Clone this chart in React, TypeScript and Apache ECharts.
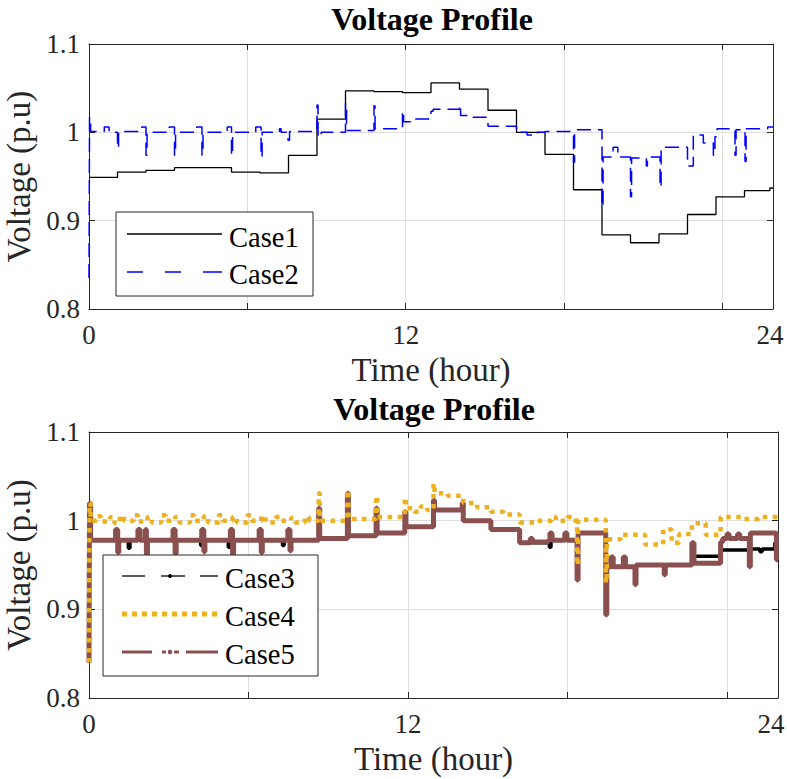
import React, { useEffect, useRef } from 'react';
import * as echarts from 'echarts';

// x axis is in sample units (54 samples per hour, 24 h = 1296)
const X_MAX = 1296;
const X_INTERVAL = 300;
const xTickLabels: Record<number, string> = { 0: '0', 600: '12', 1296: '24' };
const yTickValues = [0.8, 0.9, 1, 1.1];

const titles = ['Voltage Profile', 'Voltage Profile'];
const xName = 'Time (hour)';
const yName = 'Voltage (p.u)';
const topLegend = ['Case1', 'Case2'];
const bottomLegend = ['Case3', 'Case4', 'Case5'];

// [sample, voltage] step-after points
const case1: [number, number][] = [
  [0, 0.949], [54, 0.955], [108, 0.957], [162, 0.96], [270, 0.955], [324, 0.954],
  [378, 0.974], [432, 1.015], [486, 1.047], [540, 1.046], [594, 1.045], [648, 1.056],
  [702, 1.049], [756, 1.025], [810, 1.0], [864, 0.975], [918, 0.935], [972, 0.884],
  [1026, 0.875], [1080, 0.885], [1134, 0.907], [1188, 0.927], [1242, 0.934], [1290, 0.937], [1296, 0.937],
];

const case2: [number, number][] = [
  [0, 0.835], [1, 1.017], [3, 1.001],
  [29, 1.006], [38, 1.0],
  [54, 0.982], [56, 1.001],
  [100, 1.006], [108, 0.974], [110, 1.0],
  [152, 1.006], [162, 0.974], [164, 1.0],
  [204, 1.006], [214, 0.974], [216, 1.0],
  [262, 1.006], [270, 0.974], [272, 1.0],
  [316, 1.006], [326, 0.972], [328, 1.0],
  [361, 1.004], [364, 1.0], [377, 0.991], [380, 1.001],
  [432, 1.031], [434, 0.995], [440, 1.0],
  [486, 1.033], [488, 1.002],
  [540, 1.03], [542, 1.004],
  [594, 1.024], [596, 1.012], [612, 1.015],
  [648, 1.024], [652, 1.026],
  [702, 1.031], [704, 1.019], [720, 1.017],
  [756, 1.007],
  [810, 1.0], [830, 0.997], [850, 1.0], [864, 1.001],
  [918, 0.966], [920, 1.003],
  [972, 0.916], [974, 0.972], [993, 0.983], [1002, 0.972],
  [1026, 0.927], [1028, 0.971], [1056, 0.962], [1058, 0.972],
  [1082, 0.938], [1084, 0.983],
  [1134, 0.962], [1145, 0.997], [1164, 0.988],
  [1183, 0.974], [1186, 0.995], [1190, 1.004],
  [1224, 0.974], [1226, 1.003],
  [1243, 0.967], [1245, 1.004], [1286, 1.006], [1296, 1.006],
];

const case3: [number, number][] = [
  [0, 0.84], [1, 1.02], [3, 0.978],
  [54, 0.964], [57, 0.978], [74, 0.969], [77, 0.978],
  [108, 0.965], [110, 0.978],
  [162, 0.965], [164, 0.978],
  [210, 0.972], [213, 0.978], [216, 0.966], [218, 0.978],
  [262, 0.97], [265, 0.978],
  [324, 0.966], [326, 0.978],
  [364, 0.972], [367, 0.978], [378, 0.966], [380, 0.978],
  [432, 1.014], [434, 0.98], [486, 1.031], [488, 0.983], [540, 1.014], [542, 0.986],
  [594, 1.01], [596, 0.993], [648, 1.023], [650, 1.012], [702, 1.02], [704, 1.0],
  [756, 0.99], [810, 0.975], [864, 0.978], [866, 0.97], [869, 0.978],
  [918, 0.933], [920, 0.986], [972, 0.894], [974, 0.948],
  [1027, 0.928], [1029, 0.95], [1082, 0.939], [1084, 0.95],
  [1134, 0.96], [1188, 0.967], [1242, 0.968], [1262, 0.965], [1266, 0.968],
  [1290, 0.975], [1296, 0.975],
];

const case4: [number, number][] = [
  [0, 0.84], [1, 1.02], [3, 1.0],
  [14, 1.005], [22, 0.999], [40, 1.004], [48, 0.997], [58, 1.005], [66, 1.0],
  [84, 1.006], [92, 0.999], [110, 1.004], [118, 0.998], [136, 1.006], [144, 1.0],
  [162, 1.004], [170, 0.998], [190, 1.006], [198, 1.0], [216, 1.005], [224, 0.998],
  [244, 1.006], [252, 1.0], [270, 1.004], [278, 0.998], [298, 1.006], [306, 1.0],
  [324, 1.005], [332, 0.998], [352, 1.004], [360, 1.0], [380, 1.003], [388, 0.998],
  [406, 1.004], [414, 1.0],
  [432, 1.031], [434, 1.0], [486, 1.034], [488, 1.002], [540, 1.028], [542, 1.004],
  [594, 1.026], [596, 1.014], [612, 1.01], [624, 1.016], [636, 1.012],
  [648, 1.042], [650, 1.031], [675, 1.028], [702, 1.027], [704, 1.02], [730, 1.015],
  [756, 1.01], [780, 1.007], [810, 0.998], [840, 1.0],
  [870, 1.004], [878, 1.0], [900, 1.004], [908, 1.0],
  [918, 0.95], [920, 1.001],
  [972, 0.93], [974, 0.979], [1000, 0.984], [1026, 0.984], [1046, 0.973],
  [1080, 0.99], [1096, 0.975], [1110, 0.985], [1134, 0.997], [1160, 0.984],
  [1188, 1.004], [1230, 1.002], [1260, 1.004], [1296, 1.0],
];

const case5: [number, number][] = [
  [0, 0.84], [1, 1.02], [3, 0.978],
  [50, 0.99], [54, 0.964], [56, 0.978],
  [92, 0.99], [96, 0.978],
  [106, 0.99], [108, 0.962], [110, 0.978],
  [158, 0.99], [162, 0.963], [164, 0.978],
  [212, 0.99], [216, 0.965], [218, 0.978],
  [266, 0.99], [270, 0.962], [272, 0.978],
  [320, 0.99], [324, 0.964], [326, 0.978],
  [374, 0.99], [378, 0.966], [380, 0.978],
  [432, 1.014], [434, 0.98], [486, 1.031], [488, 0.983], [540, 1.014], [542, 0.986],
  [594, 1.01], [596, 0.993], [648, 1.023], [650, 1.012], [702, 1.02], [704, 1.0],
  [756, 0.99], [810, 0.975], [830, 0.98], [834, 0.976],
  [864, 0.978], [867, 0.986], [871, 0.978], [895, 0.986], [899, 0.978],
  [918, 0.933], [920, 0.986],
  [972, 0.894], [974, 0.948], [982, 0.959], [986, 0.948], [1005, 0.959], [1009, 0.948],
  [1027, 0.928], [1029, 0.95], [1082, 0.939], [1084, 0.95],
  [1134, 0.975], [1138, 0.952],
  [1188, 0.976], [1192, 0.98], [1200, 0.985], [1204, 0.98], [1220, 0.985], [1224, 0.98],
  [1242, 0.948], [1244, 0.986], [1293, 0.956], [1296, 0.956],
];

const FONT = "'Liberation Serif', 'Times New Roman', Times, serif";
const AXIS_COLOR = '#262626';
const GRID_COLOR = '#dfdfdf';
const BLUE = '#0000ff';
const ORANGE = '#EDB120';
const BROWN = '#8a5050';

function xAxes(gridIndex: number, maxPad: number) {
  const common = {
    type: 'value', gridIndex, min: 0, max: X_MAX, interval: X_INTERVAL,
    axisLine: { show: true, onZero: false, lineStyle: { color: AXIS_COLOR, width: 1 } },
    axisTick: { show: true, inside: true, length: 6, lineStyle: { color: AXIS_COLOR, width: 1 } },
  };
  return [
    {
      ...common, position: 'bottom',
      axisLabel: {
        show: true, margin: 12, fontSize: 27, fontFamily: FONT, color: AXIS_COLOR,
        showMinLabel: true, showMaxLabel: true,
        formatter: (v: number) => {
          const t = xTickLabels[Math.round(v)] ?? '';
          return Math.round(v) === X_MAX ? `{m|${t}}` : t;
        },
        rich: {
          m: { fontSize: 27, fontFamily: FONT, color: AXIS_COLOR, padding: [0, maxPad, 0, 0] },
        },
      },
      splitLine: { show: true, lineStyle: { color: GRID_COLOR, width: 1 } },
      name: xName, nameLocation: 'middle', nameGap: 44,
      nameTextStyle: { fontSize: 33, fontFamily: FONT, color: AXIS_COLOR },
    },
    { ...common, position: 'top', axisLabel: { show: false }, splitLine: { show: false } },
  ];
}

function yAxes(gridIndex: number) {
  const common = {
    type: 'value', gridIndex, min: 0.8, max: 1.1, interval: 0.1,
    axisLine: { show: true, onZero: false, lineStyle: { color: AXIS_COLOR, width: 1 } },
    axisTick: { show: true, inside: true, length: 6, lineStyle: { color: AXIS_COLOR, width: 1 } },
  };
  return [
    {
      ...common, position: 'left',
      axisLabel: {
        show: true, margin: 9, fontSize: 27, fontFamily: FONT, color: AXIS_COLOR,
        showMinLabel: true, showMaxLabel: true,
        formatter: (v: number) => {
          const t = yTickValues.find((y) => Math.abs(y - v) < 1e-6);
          return t === undefined ? '' : String(t);
        },
      },
      splitLine: { show: true, lineStyle: { color: GRID_COLOR, width: 1 } },
      name: yName, nameLocation: 'middle', nameGap: 45,
      nameTextStyle: { fontSize: 33, fontFamily: FONT, color: AXIS_COLOR },
    },
    { ...common, position: 'right', axisLabel: { show: false }, splitLine: { show: false } },
  ];
}

function stepSeries(name: string, data: [number, number][], axis: number, lineStyle: any, z: number) {
  return {
    name, type: 'line', data, step: 'end', xAxisIndex: axis * 2, yAxisIndex: axis * 2,
    showSymbol: false, symbol: 'none', lineStyle, z, silent: true,
  };
}

function legendText(text: string, x: number, y: number) {
  return {
    type: 'text', x, y, z: 101,
    style: {
      text, font: `28.5px ${FONT}`, fill: '#000',
      align: 'left', textAlign: 'left', verticalAlign: 'middle', textVerticalAlign: 'middle',
    },
  };
}

function seg(x1: number, x2: number, y: number, stroke: string, lineWidth: number, lineDash?: number[]) {
  return {
    type: 'line', z: 101,
    shape: { x1, y1: y, x2, y2: y },
    style: { stroke, lineWidth, lineDash: lineDash ?? null, lineCap: 'butt' },
  };
}

function dot(cx: number, cy: number, r: number, fill: string) {
  return { type: 'circle', z: 102, shape: { cx, cy, r }, style: { fill } };
}

function titleText(text: string, x: number, y: number) {
  return {
    type: 'text', x, y, z: 101,
    style: {
      text, font: `bold 32px ${FONT}`, fill: '#000',
      align: 'center', textAlign: 'center', verticalAlign: 'middle', textVerticalAlign: 'middle',
    },
  };
}

const option: any = {
  animation: false,
  backgroundColor: '#ffffff',
  grid: [
    { left: 89, right: 14, top: 44, height: 265, containLabel: false, outerBoundsMode: 'none' },
    { left: 89, right: 9, top: 432, height: 266, containLabel: false, outerBoundsMode: 'none' },
  ],
  xAxis: [...xAxes(0, 6), ...xAxes(1, 14)],
  yAxis: [...yAxes(0), ...yAxes(1)],
  series: [
    stepSeries('Case1', case1, 0, { color: '#000000', width: 1.3 }, 3),
    stepSeries('Case2', case2, 0, { color: BLUE, width: 1.5, type: [14, 7] }, 4),
    stepSeries('Case3', case3, 1, { color: '#000000', width: 3.5 }, 2),
    stepSeries('Case5', case5, 1, { color: BROWN, width: 5 }, 3),
    stepSeries('Case4', case4, 1, { color: ORANGE, width: 4.5, type: [4.5, 5.5], cap: 'butt' }, 4),
  ],
  graphic: [
    titleText(titles[0], 432, 19),
    titleText(titles[1], 434, 409),
    // top legend
    { type: 'rect', z: 100, shape: { x: 116, y: 212, width: 197, height: 84 }, style: { fill: '#fff', stroke: AXIS_COLOR, lineWidth: 1 } },
    seg(127, 222, 234, '#000', 1.3),
    legendText(topLegend[0], 229, 237),
    seg(127, 143, 272, BLUE, 1.5), seg(165, 181, 272, BLUE, 1.5), seg(203, 222, 272, BLUE, 1.5),
    legendText(topLegend[1], 229, 274),
    // bottom legend
    { type: 'rect', z: 100, shape: { x: 103, y: 555, width: 215, height: 121 }, style: { fill: '#fff', stroke: AXIS_COLOR, lineWidth: 1 } },
    seg(122, 145, 576, '#000', 1.3), seg(161, 185, 576, '#000', 1.3), seg(200, 218, 576, '#000', 1.3),
    dot(170, 576, 2, '#000'),
    legendText(bottomLegend[0], 225, 578),
    seg(122, 217, 614, ORANGE, 5, [5, 5]),
    legendText(bottomLegend[1], 225, 616),
    seg(122, 152, 652, BROWN, 3), seg(162, 166, 652, BROWN, 3), seg(174, 179, 652, BROWN, 3), seg(186, 218, 652, BROWN, 3),
    dot(170, 652, 2.3, BROWN),
    legendText(bottomLegend[2], 225, 654),
  ],
};

export default function App() {
  const ref = useRef<HTMLDivElement>(null);
  useEffect(() => {
    const chart = echarts.init(ref.current!, null, { renderer: 'svg' });
    chart.setOption(option);
    return () => chart.dispose();
  }, []);
  return (
    <div
      ref={ref}
      style={{ position: 'fixed', left: 0, top: 0, width: 787, height: 779, background: '#fff' }}
    />
  );
}
